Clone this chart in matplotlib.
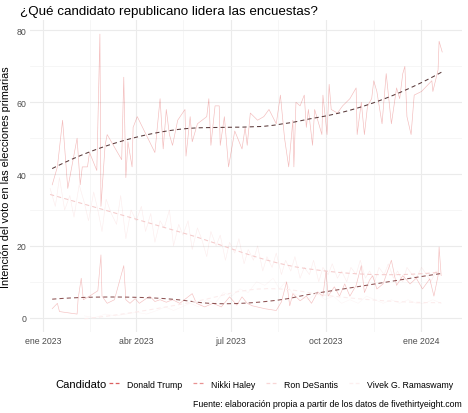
import numpy as np
import pandas as pd
import matplotlib
matplotlib.use("Agg")
import matplotlib.pyplot as plt
from matplotlib.lines import Line2D

plt.rcParams['font.family'] = ['Liberation Sans', 'DejaVu Sans']

# dias desde el 1 de enero de 2023 y voto estimado (%)
trump_dias = [9, 14, 19, 24, 33, 36, 38, 43, 45, 52, 55, 56, 60, 62, 76, 78, 80, 82, 86, 87, 91,
              108, 110, 113, 116, 119, 122, 125, 130, 137, 138, 142, 144, 149, 158, 160, 162, 166,
              170, 171, 175, 179, 185, 192, 195, 197, 200, 207, 213, 218, 225, 229, 233, 237, 241,
              242, 244, 248, 252, 254, 256, 260, 262, 265, 269, 270, 274, 276, 278, 284, 289, 296,
              302, 303, 307, 310, 313, 317, 319, 322, 327, 331, 336, 341, 344, 347, 349, 351, 355,
              358, 365, 375, 376, 381, 382, 385]
trump_voto = [37, 42, 55, 36, 50, 37, 42, 42, 46, 41, 79, 31, 48, 51, 44, 67, 39, 49, 42, 53, 56,
              46, 52, 61, 47, 58, 51, 48, 55, 58, 45, 56, 49, 54, 56, 61, 48, 59,
              59, 48, 56, 42, 52, 47, 53, 48, 57, 55, 56, 58, 54, 62, 50, 42, 55,
              42, 60, 59, 62, 53, 58, 48, 58, 55, 51, 62, 51, 65, 58, 57, 59, 61,
              64, 51, 60, 51, 59, 61, 66, 63, 54, 68, 54, 64, 61, 68, 70, 56, 51,
              62, 63, 66, 63, 69, 77, 74]

haley_dias = [9, 14, 16, 33, 34, 37, 39, 45, 53, 56, 57, 62, 69, 78, 80, 84, 89, 93, 103, 108, 113,
              119, 125, 132, 144, 148, 156, 164, 172, 180, 187, 192, 197, 202, 214, 225, 230, 235,
              238, 241, 248, 254, 259, 265, 270, 273, 275, 281, 286, 291, 296, 302, 307, 310, 315,
              318, 322, 328, 336, 341, 347, 354, 360, 366, 373, 377, 381, 382, 384]
haley_voto = [2.5, 4, 1.7, 1, 5.3, 11, 5, 6, 7.5, 17.5, 6, 4, 5, 14.5, 5, 4, 5.3, 4, 6, 4.5, 5,
              4.3, 5, 4, 6.7, 4, 3, 4, 3, 5.8, 3.5, 5.8, 4, 3.3, 2.5, 2, 4.4, 10,
              3.3, 6.7, 4.7, 6, 4, 7.2, 6, 13, 6, 8.6, 6, 9.4, 6, 9, 14.5, 7, 10.5,
              11.7, 8, 9.4, 16, 9, 11.7, 9.4, 11, 8, 10.8, 6, 11.7, 19.7, 11.7]

desantis_dias = [7, 12, 16, 21, 26, 30, 35, 40, 44, 49, 53, 57, 61, 66, 71, 75, 80, 85, 90, 95, 99,
                 104, 108, 113, 117, 122, 126, 131, 135, 140, 144, 149, 153, 158, 162, 167, 171,
                 176, 180, 185, 189, 194, 198, 203, 207, 212, 216, 221, 225, 230, 234, 239, 243,
                 248, 252, 257, 261, 266, 270, 275, 279, 284, 288, 293, 297, 302, 306, 311, 315,
                 320, 324, 329, 333, 338, 342, 347, 351, 356, 360, 365, 370, 374, 379, 383]
desantis_voto = [36, 31, 39, 30, 34, 28, 37, 32, 27, 35, 30, 24, 33, 29, 26, 34, 22, 30, 27, 31, 24,
                 29, 21, 27, 25, 30, 20, 26, 23, 27, 19, 25, 22, 17, 24, 20, 23,
                 16, 21, 18, 22, 15, 19, 16, 20, 13, 17, 14, 18, 12, 16, 13, 17,
                 11, 14, 12, 16, 10, 14, 12, 15, 11, 13, 10, 14, 12, 16, 11, 13,
                 10, 14, 12, 15, 11, 13, 10, 14, 12, 11, 14, 12, 10, 13, 12]

ramaswamy_dias = [40, 50, 60, 70, 80, 90, 100, 110, 118, 126, 134, 142, 150, 158, 166, 174, 182,
                  190, 198, 206, 214, 222, 228, 234, 240, 248, 256, 264, 272, 280, 288, 296, 304,
                  312, 320, 328, 336, 344, 352, 360, 368, 376, 384]
ramaswamy_voto = [0.5, 0, 1, 0.5, 1, 1.5, 1, 2, 3, 2, 3, 4, 3, 5, 4, 7, 6,
                  8, 7, 10, 9, 11, 8, 10, 7, 6, 5, 7, 5, 6, 4, 5, 4,
                  6, 5, 4, 5, 4, 5, 4, 4, 5, 4]

candidatos = ["Donald Trump", "Nikki Haley", "Ron DeSantis", "Vivek G. Ramaswamy"]
series = [(trump_dias, trump_voto), (haley_dias, haley_voto),
          (desantis_dias, desantis_voto), (ramaswamy_dias, ramaswamy_voto)]
alfa_linea = [0.3, 0.28, 0.08, 0.04]
color_tend = ["#5a3a3a", "#8c5252", "#f4caca", "#fcecec"]
color_clave = ["#dc5f5f", "#e99292", "#f8d6d6", "#fdefef"]

meses = ["ene", "feb", "mar", "abr", "may", "jun", "jul", "ago", "sep", "oct", "nov", "dic"]


def loess(x, y, xs, span=0.75):
    # suavizado local cuadratico con pesos tricubicos, como geom_smooth
    x = np.asarray(x, float)
    y = np.asarray(y, float)
    k = int(np.ceil(span * len(x)))
    out = []
    for x0 in xs:
        d = np.abs(x - x0)
        h = np.sort(d)[k - 1]
        w = np.clip(1 - (d / h) ** 3, 0, None) ** 3
        c = np.polyfit(x - x0, y, 2, w=np.sqrt(w))
        out.append(c[-1])
    return np.array(out)


inicio = pd.Timestamp("2023-01-01")

fig = plt.figure(figsize=(4.68, 4.14), dpi=100)
ax = fig.add_axes([0.065, 0.196, 0.922, 0.754])

for (dias, voto), a, ct in zip(series, alfa_linea, color_tend):
    fechas = inicio + pd.to_timedelta(dias, unit="D")
    ax.plot(fechas, voto, color="#d81e1e", alpha=a, lw=0.45)
    xs = np.linspace(min(dias), max(dias), 120)
    ax.plot(inicio + pd.to_timedelta(xs, unit="D"), loess(dias, voto, xs),
            color=ct, lw=0.75, ls=(0, (4, 3)))

ax.set_xlim(inicio + pd.Timedelta(days=-12), inicio + pd.Timedelta(days=404))
ax.set_ylim(-3.95, 83)

mayores = [pd.Timestamp(s) for s in ["2023-01-01", "2023-04-01", "2023-07-01", "2023-10-01", "2024-01-01"]]
menores = [pd.Timestamp(s) for s in ["2023-02-15", "2023-05-16", "2023-08-16", "2023-11-16"]]
ax.set_xticks(mayores)
ax.set_xticks(menores, minor=True)
ax.set_xticklabels([f"{meses[d.month - 1]} {d.year}" for d in mayores])
ax.set_yticks([0, 20, 40, 60, 80])
ax.set_yticks([10, 30, 50, 70], minor=True)

ax.grid(which="major", color="#ebebeb", lw=0.8)
ax.grid(which="minor", color="#f3f3f3", lw=0.5)
ax.set_axisbelow(True)
for s in ax.spines.values():
    s.set_visible(False)
ax.tick_params(which="both", length=0, labelsize=6.3, labelcolor="#4d4d4d", pad=3)

ax.set_ylabel("Intención del voto en las elecciones primarias", fontsize=7.8, labelpad=4)
fig.text(0.043, 0.972, "¿Qué candidato republicano lidera las encuestas?", fontsize=9.6,
         ha="left", va="center")

# leyenda abajo con el titulo a la izquierda
fig.text(0.118, 0.07, "Candidato", fontsize=8, ha="left", va="center")
manijas = [Line2D([], [], color=c, lw=0.9, ls=(0, (3, 2))) for c in color_clave]
fig.legend(manijas, candidatos, loc="center left", bbox_to_anchor=(0.232, 0.07), ncol=4,
           frameon=False, fontsize=6.3, handlelength=1.3, columnspacing=1.2,
           handletextpad=0.8, borderaxespad=0, borderpad=0)

fig.text(0.987, 0.024, "Fuente: elaboración propia a partir de los datos de fivethirtyeight.com",
         fontsize=6.3, ha="right", va="center")

fig.savefig("out.png", dpi=100)
